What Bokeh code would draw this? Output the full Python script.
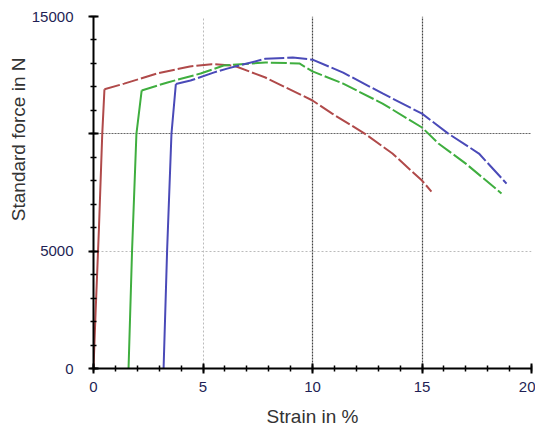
from bokeh.plotting import figure
from bokeh.models import Range1d, FixedTicker, Grid, Title
from bokeh.embed import file_html
from bokeh.resources import INLINE

# Red specimen
red_rise_x = [0, 0.1, 0.25, 0.4, 0.5]
red_rise_y = [0, 2500, 6000, 10000, 11900]
red_x = [0.5, 1.4, 2.9, 4.4, 5.4, 6.4, 7.85, 10.0, 10.9, 12.4, 13.65, 15.0, 15.43]
red_y = [11900, 12140, 12570, 12870, 12970, 12910, 12400, 11420, 10860, 10000, 9160, 8010, 7540]

# Green specimen
green_rise_x = [1.6, 1.76, 1.96, 2.2]
green_rise_y = [0, 5000, 10000, 11850]
green_x = [2.2, 3.38, 4.89, 5.94, 7.85, 9.4, 10.0, 11.4, 13.2, 15.0, 15.75, 17.0, 18.63]
green_y = [11850, 12190, 12570, 12910, 13040, 13000, 12660, 12140, 11290, 10270, 9590, 8730, 7460]

# Blue specimen
blue_rise_x = [3.2, 3.36, 3.56, 3.76]
blue_rise_y = [0, 5000, 10000, 12120]
blue_x = [3.76, 4.43, 5.48, 6.1, 7.85, 9.1, 10.0, 11.4, 13.2, 15.0, 16.2, 17.6, 18.86]
blue_y = [12120, 12270, 12610, 12780, 13200, 13250, 13160, 12610, 11720, 10860, 10010, 9160, 7880]

x_ticks = [0, 5, 10, 15, 20]
y_ticks = [0, 5000, 10000, 15000]
y_labels = {0: "0", 5000: "5000", 10000: "", 15000: "15000"}

RED = "#b04a4a"
GREEN = "#3fae3f"
BLUE = "#4a4ab8"

p = figure(width=535, height=430, output_backend="svg", toolbar_location=None,
           x_range=Range1d(0, 20), y_range=Range1d(0, 15000),
           min_border_left=93, min_border_right=4, min_border_top=16, min_border_bottom=62)
p.outline_line_color = None
p.background_fill_color = "white"
p.border_fill_color = "white"

# grids
p.xgrid.visible = False
p.ygrid.visible = False
p.add_layout(Grid(dimension=0, ticker=FixedTicker(ticks=[5]), grid_line_color="#bbbbbb",
                  grid_line_dash="2 2", grid_line_width=1))
p.add_layout(Grid(dimension=0, ticker=FixedTicker(ticks=[10, 15, 20]), grid_line_color="#444444",
                  grid_line_dash="2 1", grid_line_width=1.2))
p.add_layout(Grid(dimension=1, ticker=FixedTicker(ticks=[5000]), grid_line_color="#bbbbbb",
                  grid_line_dash="2 2", grid_line_width=1))
p.add_layout(Grid(dimension=1, ticker=FixedTicker(ticks=[10000]), grid_line_color="#666666",
                  grid_line_dash="2 1", grid_line_width=1.2))
p.add_layout(Grid(dimension=1, ticker=FixedTicker(ticks=[15000]), grid_line_color="#999999",
                  grid_line_width=1.5))

# axes
p.xaxis.ticker = FixedTicker(ticks=x_ticks, minor_ticks=list(range(0, 21)))
p.yaxis.ticker = FixedTicker(ticks=y_ticks, minor_ticks=list(range(0, 15001, 1000)))
p.yaxis.major_label_overrides = y_labels
for ax in (p.xaxis[0], p.yaxis[0]):
    ax.axis_line_color = "black"
    ax.axis_line_width = 2
    ax.major_tick_line_color = "black"
    ax.major_tick_line_width = 2
    ax.minor_tick_line_color = "black"
    ax.minor_tick_line_width = 1.5
    ax.major_tick_in = 5
    ax.major_tick_out = 5
    ax.minor_tick_in = 3
    ax.minor_tick_out = 3
    ax.major_label_text_font = "Liberation Sans"
    ax.major_label_text_font_size = "15px"
    ax.major_label_text_color = "#1f1f55"
    ax.axis_label_text_font = "Liberation Sans"
    ax.axis_label_text_font_size = "19px"
    ax.axis_label_text_font_style = "normal"
    ax.axis_label_text_color = "#333333"
p.xaxis.axis_label = "Strain in %"
p.xaxis.major_label_standoff = 8
p.xaxis.axis_label_standoff = 11
p.yaxis.major_label_standoff = 15

ytitle = Title(text="Standard force in N", align="right", offset=41,
               text_font="Liberation Sans", text_font_size="19px",
               text_font_style="normal", text_color="#333333", standoff=0)
p.add_layout(ytitle, "left")

# curves
p.line(red_rise_x, red_rise_y, line_color=RED, line_width=2)
p.line(red_x, red_y, line_color=RED, line_width=2, line_dash="16 3")
p.line(green_rise_x, green_rise_y, line_color=GREEN, line_width=2)
p.line(green_x, green_y, line_color=GREEN, line_width=2, line_dash="16 3")
p.line(blue_rise_x, blue_rise_y, line_color=BLUE, line_width=2)
p.line(blue_x, blue_y, line_color=BLUE, line_width=2, line_dash="20 3")

open("out.html", "w").write(file_html(p, INLINE))
